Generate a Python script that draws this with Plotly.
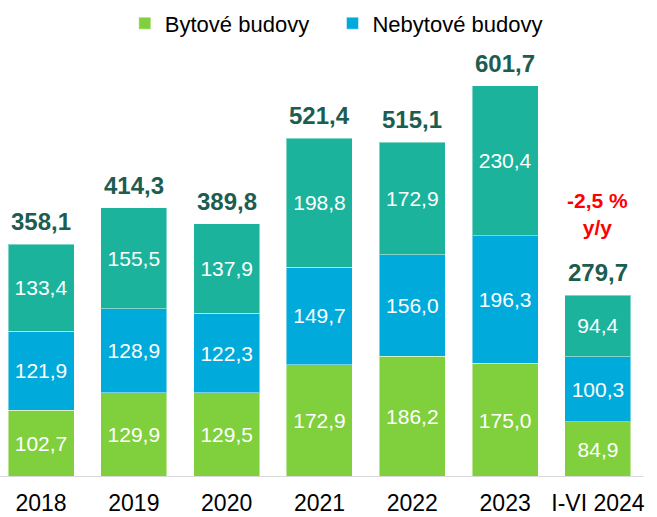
import plotly.graph_objects as go

categories = ["2018", "2019", "2020", "2021", "2022", "2023", "I-VI 2024"]
bytove = [102.7, 129.9, 129.5, 172.9, 186.2, 175.0, 84.9]
nebytove = [121.9, 128.9, 122.3, 149.7, 156.0, 196.3, 100.3]
ostatni = [133.4, 155.5, 137.9, 198.8, 172.9, 230.4, 94.4]
totals = [358.1, 414.3, 389.8, 521.4, 515.1, 601.7, 279.7]
series_names = ["Bytové budovy", "Nebytové budovy", "Ostatní"]
yoy_text = "-2,5 %<br>y/y"

def fmt(v):
    return f"{v:.1f}".replace(".", ",")

GREEN = "#80CF3C"
BLUE = "#00ABDC"
TEAL = "#1BB39C"
DARK = "#1D5D50"
FONT = "Liberation Sans"
PAD = "\u00a0" * 3

fig = go.Figure()
for name, vals, col, show, pad in [
    (series_names[0], bytove, GREEN, True, PAD),
    (series_names[1], nebytove, BLUE, True, ""),
    (series_names[2], ostatni, TEAL, False, ""),
]:
    fig.add_trace(go.Bar(
        x=categories, y=vals, name=name + pad, showlegend=show,
        marker=dict(color=col, line=dict(color="rgba(255,255,255,0.45)", width=1)),
        width=0.711,
        text=[fmt(v) for v in vals],
        textposition="inside", insidetextanchor="middle",
        textfont=dict(color="white", size=21, family=FONT),
        hoverinfo="skip",
    ))

for i, t in enumerate(totals):
    fig.add_annotation(x=i, y=t, text=fmt(t), showarrow=False,
                       yanchor="bottom", yshift=7,
                       font=dict(color=DARK, size=24, family=FONT, weight="bold"))

fig.add_annotation(x=len(categories) - 1, y=totals[-1], text=yoy_text, showarrow=False,
                   yanchor="bottom", yshift=54,
                   font=dict(color="#FF0000", size=21, family=FONT, weight="bold"))

fig.add_shape(type="line", xref="x", yref="y", x0=-0.4417, x1=6.49, y0=0, y1=0,
              line=dict(color="#D9D9D9", width=2))

fig.update_layout(
    width=657, height=517,
    margin=dict(l=0, r=0, t=0, b=40),
    barmode="stack",
    plot_bgcolor="white", paper_bgcolor="white",
    font=dict(family=FONT, color="#000000"),
    legend=dict(orientation="h", x=0.19, xanchor="left", y=0.995, yanchor="top",
                font=dict(size=22, family=FONT, color="#000000"),
                traceorder="normal"),
    xaxis=dict(type="category", range=[-0.4417, 6.636], showgrid=False, showline=False,
               ticks="", ticklabelstandoff=10, automargin=False,
               tickfont=dict(size=23, family=FONT, color="#000000")),
    yaxis=dict(range=[0, 734], visible=False, automargin=False),
)

fig.write_html("out.html", config={"displayModeBar": False},
               post_script="document.body.style.margin='0';document.body.style.overflow='hidden';")
